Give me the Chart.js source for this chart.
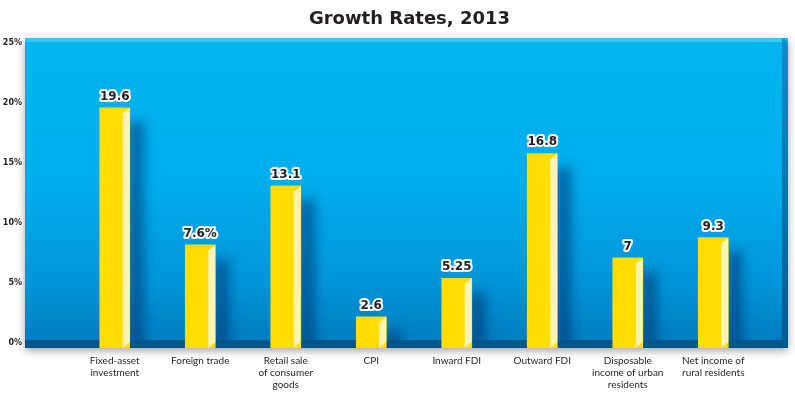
<!DOCTYPE html>
<html>
<head>
<meta charset="utf-8">
<script src="https://cdn.jsdelivr.net/npm/chart.js@4.4.1/dist/chart.umd.min.js"></script>
<style>
  html, body { margin: 0; padding: 0; background: #fff; }
  #chart { display: block; }
</style>
</head>
<body>
<canvas id="chart" width="795" height="393"></canvas>
<script>
// chart data
const chartTitle = 'Growth Rates, 2013';
const categories = [
  ['Fixed-asset', 'investment'],
  ['Foreign trade'],
  ['Retail sale', 'of consumer', 'goods'],
  ['CPI'],
  ['Inward FDI'],
  ['Outward FDI'],
  ['Disposable', 'income of urban', 'residents'],
  ['Net income of', 'rural residents']
];
const barHeights = [19.6, 8.2, 13.1, 2.2, 5.4, 15.8, 7.1, 8.8]; // as drawn
const valueLabels = ['19.6', '7.6%', '13.1', '2.6', '5.25', '16.8', '7', '9.3'];
const yTicks = [0, 5, 10, 15, 20, 25];
const yMin = -0.4;
const yMax = 25;

const DARK = '#231f20';

// title centred over the blue panel
const titlePlugin = {
  id: 'panelTitle',
  afterDraw(chart) {
    const { ctx, chartArea: a } = chart;
    const l = a.left - 47, r = a.right + 32;
    ctx.save();
    ctx.font = 'bold 18px "DejaVu Sans"';
    ctx.fillStyle = DARK;
    ctx.textAlign = 'center';
    ctx.textBaseline = 'middle';
    ctx.fillText(chartTitle, (l + r) / 2 + 3, 19);
    ctx.restore();
  }
};

// blue 3d panel behind the bars
const panelPlugin = {
  id: 'panel',
  beforeDatasetsDraw(chart) {
    const { ctx, chartArea: a } = chart;
    const l = a.left - 47, r = a.right + 32, t = a.top - 5, b = a.bottom;
    ctx.save();
    // drop shadow
    ctx.shadowColor = 'rgba(0,0,0,0.35)';
    ctx.shadowBlur = 8;
    ctx.shadowOffsetY = 3;
    ctx.fillStyle = '#00aeef';
    ctx.fillRect(l, t, r - l, b - t);
    ctx.shadowColor = 'transparent';
    const g = ctx.createLinearGradient(0, t, 0, b);
    g.addColorStop(0, '#05b3ee');
    g.addColorStop(0.45, '#00aeef');
    g.addColorStop(0.8, '#0094d8');
    g.addColorStop(1, '#0079bd');
    ctx.fillStyle = g;
    ctx.fillRect(l, t, r - l, b - t);
    // top light strip
    ctx.fillStyle = '#3cc5f1';
    ctx.fillRect(l, t, r - l - 6, 4);
    // right side
    const gs = ctx.createLinearGradient(0, t, 0, b);
    gs.addColorStop(0, '#0a8fcc');
    gs.addColorStop(1, '#005a8f');
    ctx.fillStyle = gs;
    ctx.beginPath();
    ctx.moveTo(r - 6, t);
    ctx.lineTo(r, t + 5);
    ctx.lineTo(r, b);
    ctx.lineTo(r - 6, b);
    ctx.closePath();
    ctx.fill();
    // bottom dark band
    ctx.fillStyle = '#00558a';
    ctx.fillRect(l, b - 8, r - l - 6, 8);
    // bar shadows
    ctx.beginPath();
    ctx.rect(l, t, r - l - 6, b - t - 8);
    ctx.clip();
    ctx.filter = 'blur(6px)';
    ctx.fillStyle = 'rgba(0,45,100,0.55)';
    chart.getDatasetMeta(0).data.forEach(bar => {
      const right = bar.x + bar.width / 2;
      ctx.fillRect(right - 2, bar.y + 14, 16, bar.base - bar.y - 14);
    });
    ctx.restore();
  }
};

// cream side strip on each bar plus the value labels
const barDecor = {
  id: 'barDecor',
  afterDatasetsDraw(chart) {
    const { ctx } = chart;
    ctx.save();
    chart.getDatasetMeta(0).data.forEach((bar, i) => {
      const r = bar.x + bar.width / 2;
      const top = bar.y, base = bar.base;
      ctx.fillStyle = '#fff3b5';
      ctx.beginPath();
      ctx.moveTo(r - 7, top + 6);
      ctx.lineTo(r, top);
      ctx.lineTo(r, base - 6);
      ctx.lineTo(r - 7, base);
      ctx.closePath();
      ctx.fill();

      ctx.font = 'bold 12px "DejaVu Sans"';
      ctx.textAlign = 'center';
      ctx.textBaseline = 'alphabetic';
      ctx.lineJoin = 'round';
      ctx.lineWidth = 4;
      ctx.strokeStyle = '#ffffff';
      ctx.strokeText(valueLabels[i], bar.x, top - 8);
      ctx.fillStyle = DARK;
      ctx.fillText(valueLabels[i], bar.x, top - 8);
    });
    ctx.restore();
  }
};

new Chart(document.getElementById('chart'), {
  type: 'bar',
  data: {
    labels: categories,
    datasets: [{
      data: barHeights,
      backgroundColor: '#ffdd00',
      borderWidth: 0,
      barThickness: 30,
      base: yMin
    }]
  },
  options: {
    responsive: false,
    animation: false,
    layout: { padding: { left: 0, right: 39, top: 43, bottom: 0 } },
    plugins: {
      legend: { display: false },
      tooltip: { enabled: false },
      title: { display: false }
    },
    scales: {
      x: {
        grid: { display: false, drawTicks: false },
        border: { display: false },
        afterFit: s => { s.height = 45; s.paddingLeft = 0; s.paddingRight = 0; },
        ticks: {
          color: DARK,
          font: { family: 'Lato', size: 10, lineHeight: 1.2 },
          padding: 7,
          autoSkip: false,
          maxRotation: 0
        }
      },
      y: {
        min: yMin,
        max: yMax,
        grid: { display: false, drawTicks: false },
        border: { display: false },
        afterBuildTicks: s => { s.ticks = yTicks.map(v => ({ value: v })); },
        afterFit: s => { s.width = 72; s.paddingTop = 0; s.paddingBottom = 0; },
        ticks: {
          color: DARK,
          font: { family: 'DejaVu Sans', size: 8, weight: 'bold' },
          padding: 50,
          callback: v => v + '%'
        }
      }
    }
  },
  plugins: [panelPlugin, barDecor, titlePlugin]
});
</script>
</body>
</html>
